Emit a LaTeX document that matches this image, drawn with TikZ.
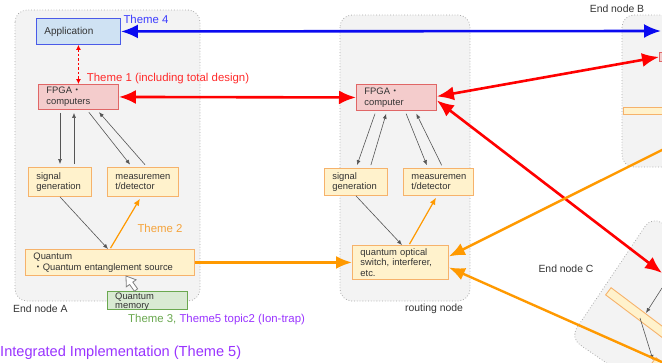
\documentclass[tikz,border=0pt]{standalone}
\usepackage{fontspec}
\setmainfont{Liberation Sans}
\newfontfamily\cjk{Noto Sans CJK JP}
\usetikzlibrary{arrows.meta}
\definecolor{bgray}{HTML}{F3F3F3}
\definecolor{bline}{HTML}{AAAAAA}
\definecolor{appfill}{HTML}{CFE2F3}
\definecolor{appline}{HTML}{4A5AE8}
\definecolor{pinkfill}{HTML}{F4CCCC}
\definecolor{pinkline}{HTML}{E06666}
\definecolor{ofill}{HTML}{FFF2CC}
\definecolor{oline}{HTML}{F6B26B}
\definecolor{gfill}{HTML}{D9EAD3}
\definecolor{gline}{HTML}{6AA84F}
\definecolor{ored}{HTML}{FF0000}
\definecolor{oblue}{HTML}{0A0AF0}
\definecolor{orng}{HTML}{FF9900}
\definecolor{tblue}{HTML}{3C3CFF}
\definecolor{tred}{HTML}{FF2A2A}
\definecolor{torng}{HTML}{F5A33A}
\definecolor{tgreen}{HTML}{6AA84F}
\definecolor{tpurp}{HTML}{9933FF}
\definecolor{dgray}{HTML}{555555}
\definecolor{txt}{HTML}{333333}
\tikzset{
  grp/.style={fill=bgray, draw=bline, dotted, line width=0.8pt, rounded corners=12pt},
  bx/.style={anchor=north west, inner xsep=8pt, inner ysep=1pt, align=left,
    font=\fontsize{9.4}{10.6}\selectfont, text=txt, line width=0.9pt},
  appbox/.style={bx, fill=appfill, draw=appline},
  fpgabox/.style={bx, fill=pinkfill, draw=pinkline},
  obox/.style={bx, fill=ofill, draw=oline},
  gbox/.style={bx, fill=gfill, draw=gline},
  lbl/.style={inner sep=0pt, text=txt, font=\fontsize{10.4}{12}\selectfont},
  thlbl/.style={inner sep=0pt, font=\fontsize{11.4}{13}\selectfont},
  thin/.style={draw=dgray, line width=0.6pt, -{Latex[length=5pt,width=4pt]}, shorten <=3pt, shorten >=3pt},
  redar/.style={draw=ored, line width=2.6pt, {Latex[length=17pt,width=14pt]}-{Latex[length=17pt,width=14pt]}},
  bluar/.style={draw=oblue, line width=2.6pt, {Latex[length=17pt,width=14pt]}-{Latex[length=17pt,width=14pt]}},
  orar/.style={draw=orng, line width=2.4pt, -{Latex[length=16pt,width=13pt]}},
  orsm/.style={draw=orng, line width=1.2pt, -{Latex[length=7pt,width=6pt]}, shorten <=1pt, shorten >=2pt},
}
\begin{document}
\begin{tikzpicture}[x=1pt,y=-1pt]
\useasboundingbox (0,0) rectangle (662,362);
\clip (0,0) rectangle (662,362);
% group backgrounds
\draw[grp] (15,10) rectangle (200,301);
\draw[grp] (340,15) rectangle (470,301);
\draw[grp] (622,15) rectangle (720,167);
\draw[grp] (817,331) -- (652,216) -- (570,338) -- (735,451) -- cycle;

% End node A
\node[appbox, text width=68pt, minimum height=26pt, font=\fontsize{10}{12}\selectfont] (app) at (36,18) {Application};
\node[fpgabox, text width=64pt, minimum height=25pt] (fpgaA) at (38,84) {FPGA{\cjk ・}\\computers};
\node[obox, text width=47pt, minimum height=29pt] (sigA) at (28,167) {signal\\generation};
\node[obox, text width=55pt, minimum height=29pt] (measA) at (107,167) {measuremen\\t/detector};
\node[obox, text width=153pt, minimum height=26pt] (quantA) at (25,249) {Quantum\\{\cjk ・}Quantum entanglement source};
\node[gbox, minimum width=80pt, minimum height=18pt, inner sep=0pt] (mem) at (107,291) {};
\node[anchor=north west, inner sep=0pt, align=left, text=txt, font=\fontsize{9.4}{9.6}\selectfont] (memt) at (115,292.5) {Quantum\\memory};

% routing node
\node[fpgabox, text width=64pt, minimum height=26pt] (fpgaR) at (356,84) {FPGA{\cjk ・}\\computer};
\node[obox, text width=47pt, minimum height=27pt] (sigR) at (324,168) {signal\\generation};
\node[obox, text width=54pt, minimum height=27pt] (measR) at (403,168) {measuremen\\t/detector};
\node[obox, text width=80pt, minimum height=34pt] (sw) at (352,245) {quantum optical\\switch, interferer,\\etc.};

% End node B / C partial contents
\node[obox, minimum width=60pt, minimum height=7pt, inner sep=0pt] (bbar) at (623,107) {};
\node[fpgabox, minimum width=20pt, minimum height=9pt, inner sep=0pt] (bfpga) at (659,52) {};
\node[obox, rotate=-37, minimum width=90pt, minimum height=9pt, inner sep=0pt, anchor=west] (cbar) at (608,291) {};
\node[obox, rotate=-37, minimum width=40pt, minimum height=14pt, inner sep=0pt, anchor=north west] (cq) at (656,357) {};
\coordinate (c1) at (662,288);
\coordinate (c2) at (646,313);
\coordinate (c3) at (640,318);
\coordinate (c4) at (653,360);
\draw[thin, shorten <=0pt, shorten >=0pt] (c1) -- (c2);
\draw[thin, shorten <=0pt, shorten >=0pt] (c3) -- (c4);

% thin arrows, end node A
\draw[thin] ([xshift=22pt]fpgaA.south west) -- ([xshift=32pt]sigA.north west);
\draw[thin] ([xshift=46pt]sigA.north west) -- ([xshift=36pt]fpgaA.south west);
\draw[thin] ([xshift=49pt]fpgaA.south west) -- ([xshift=25pt]measA.north west);
\draw[thin] ([xshift=40pt]measA.north west) -- ([xshift=59pt]fpgaA.south west);
\draw[thin, shorten <=0pt, shorten >=0pt] ([xshift=32pt]sigA.south west) -- ([xshift=83pt]quantA.north west);
\draw[orsm] ([xshift=85pt]quantA.north west) -- ([xshift=34pt]measA.south west);

% thin arrows, routing node
\draw[thin] ([xshift=20pt]fpgaR.south west) -- ([xshift=32pt]sigR.north west);
\draw[thin] ([xshift=46pt]sigR.north west) -- ([xshift=31pt]fpgaR.south west);
\draw[thin] ([xshift=49pt]fpgaR.south west) -- ([xshift=25pt]measR.north west);
\draw[thin] ([xshift=40pt]measR.north west) -- ([xshift=59pt]fpgaR.south west);
\draw[thin, shorten <=0pt, shorten >=0pt] ([xshift=32pt]sigR.south west) -- ([xshift=50pt]sw.north west);
\draw[orsm] ([xshift=57pt]sw.north west) -- ([xshift=34pt]measR.south west);

% hollow arrow memory -> quantum
\draw[gray, line width=0.8pt, fill=white] (126,276) -- (136.1,279.8) -- (132.8,282.1) -- (137.6,288.8) -- (134.4,291.2) -- (129.6,284.5) -- (126.3,286.8) -- cycle;

% dashed red
\draw[draw=ored, line width=0.9pt, dash pattern=on 2.5pt off 2pt, {Latex[length=5pt,width=5pt]}-{Latex[length=5pt,width=5pt]}] (app.south) -- (fpgaA.north);

% main links
\coordinate (bapp) at (661,31);
\coordinate (cfpga) at (662,273);
\coordinate (bq) at (700,131);
\coordinate (cqq) at (700,379);
\draw[bluar] (app.east) -- (bapp);
\draw[redar] (fpgaA.east) -- (fpgaR.west);
\draw[redar] ([yshift=1pt]fpgaR.east) -- (bfpga.west);
\draw[redar] ([yshift=-3pt]fpgaR.east) -- (cfpga);
\draw[orar] (bq) -- ([yshift=6pt]sw.east);
\draw[orar] (cqq) -- ([yshift=-5pt]sw.east);
\draw[orar] (quantA.east) -- (sw.west);

% labels
\node[thlbl, text=tblue] (t4) at (146,19) {Theme 4};
\node[thlbl, text=tred] (t1) at (168,79) {Theme 1 (including total design)};
\node[thlbl, text=torng] (t2) at (160,228) {Theme 2};
\node[lbl, anchor=west] (ena) at (13,309) {End node A};
\node[thlbl, anchor=west] (t3) at (128,320) {{\color{tgreen}Theme 3,} {\color{tpurp}Theme5 topic2 (Ion-trap)}};
\node[inner sep=0pt, anchor=west, text=tpurp, font=\fontsize{14.6}{17}\selectfont] (ti) at (0,353) {Integrated Implementation (Theme 5)};
\node[lbl] (enb) at (617,9) {End node B};
\node[lbl] (rn) at (434,309) {routing node};
\node[lbl] (enc) at (566,269) {End node C};
\end{tikzpicture}
\end{document}
